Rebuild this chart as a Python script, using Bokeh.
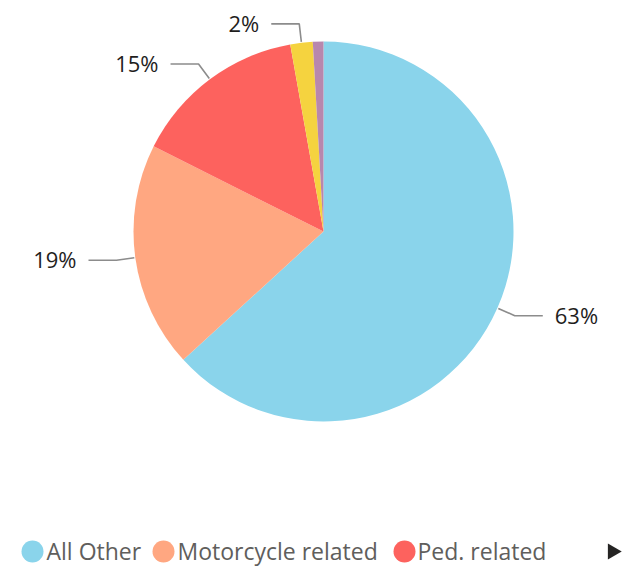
import math
from bokeh.plotting import figure
from bokeh.models import Range1d, ColumnDataSource
from bokeh.core.properties import value
from bokeh.embed import file_html
from bokeh.resources import INLINE

# ---- data ----
categories = ["All Other", "Motorcycle related", "Ped. related", "Bicycle related", "Unknown"]
values = [63.2, 19.2, 14.8, 1.9, 0.9]
colors = ["#8AD4EB", "#FFA781", "#FD625E", "#F5D33F", "#B887AD"]
legend_count = 3  # legend shows only the first three items (rest scrolled)

# ---- layout ----
W, H = 628, 567
CX, CY, R = 323, 336, 190
FONT = "Open Sans"

p = figure(width=W, height=H, x_range=Range1d(0, W), y_range=Range1d(0, H),
           output_backend="svg", toolbar_location=None, min_border=0)
p.axis.visible = False
p.grid.visible = False
p.outline_line_color = None
p.background_fill_color = "white"
p.border_fill_color = "white"

total = sum(values)
starts, ends, mids = [], [], []
cum = 0.0
for v in values:
    f = v / total
    starts.append(math.pi / 2 - 2 * math.pi * cum)
    ends.append(math.pi / 2 - 2 * math.pi * (cum + f))
    mids.append(math.pi / 2 - 2 * math.pi * (cum + f / 2))
    cum += f

src = ColumnDataSource(dict(start=starts, end=ends, color=colors, cat=categories))
p.wedge(x=CX, y=CY, radius=R, start_angle="start", end_angle="end",
        direction="clock", fill_color="color", line_color=None, source=src)

# ---- data labels with leader lines ----
lx, ly, tx, ty, tt, ta = [], [], [], [], [], []
for v, th in zip(values, mids):
    pct = round(v / total * 100)
    if v / total < 0.015:
        continue
    c, s = math.cos(th), math.sin(th)
    x0, y0 = CX + (R + 1) * c, CY + (R + 1) * s
    x1, y1 = CX + (R + 19) * c, CY + (R + 19) * s
    side = 1 if c >= 0 else -1
    x2 = x1 + side * 28
    lx.append([x0, x1, x2]); ly.append([y0, y1, y1])
    tx.append(x2 + side * 12); ty.append(y1 + 1)
    tt.append(f"{pct}%"); ta.append("left" if side > 0 else "right")

p.multi_line(xs=lx, ys=ly, line_color="#8C8C8C", line_width=1.6)
p.text(x=tx, y=ty, text=tt, text_align=ta, text_baseline="middle",
       text_font=value(FONT), text_font_size="22px", text_color="#1F1E1D")

# ---- legend ----
leg_circle_x = [32, 163, 404]
leg_text_x = [46, 177, 417]
leg_y = 16
p.scatter(x=leg_circle_x, y=[leg_y] * legend_count, size=22, marker="circle",
          fill_color=colors[:legend_count], line_color=None)
p.text(x=leg_text_x, y=[leg_y + 1] * legend_count, text=categories[:legend_count],
       text_align="left", text_baseline="middle", text_font=value(FONT),
       text_font_size="23px", text_color="#605E5C")
p.scatter(x=[612], y=[leg_y], marker="triangle", size=16, angle=-math.pi / 2,
          fill_color="#252423", line_color=None)

open("out.html", "w").write(file_html(p, INLINE))
